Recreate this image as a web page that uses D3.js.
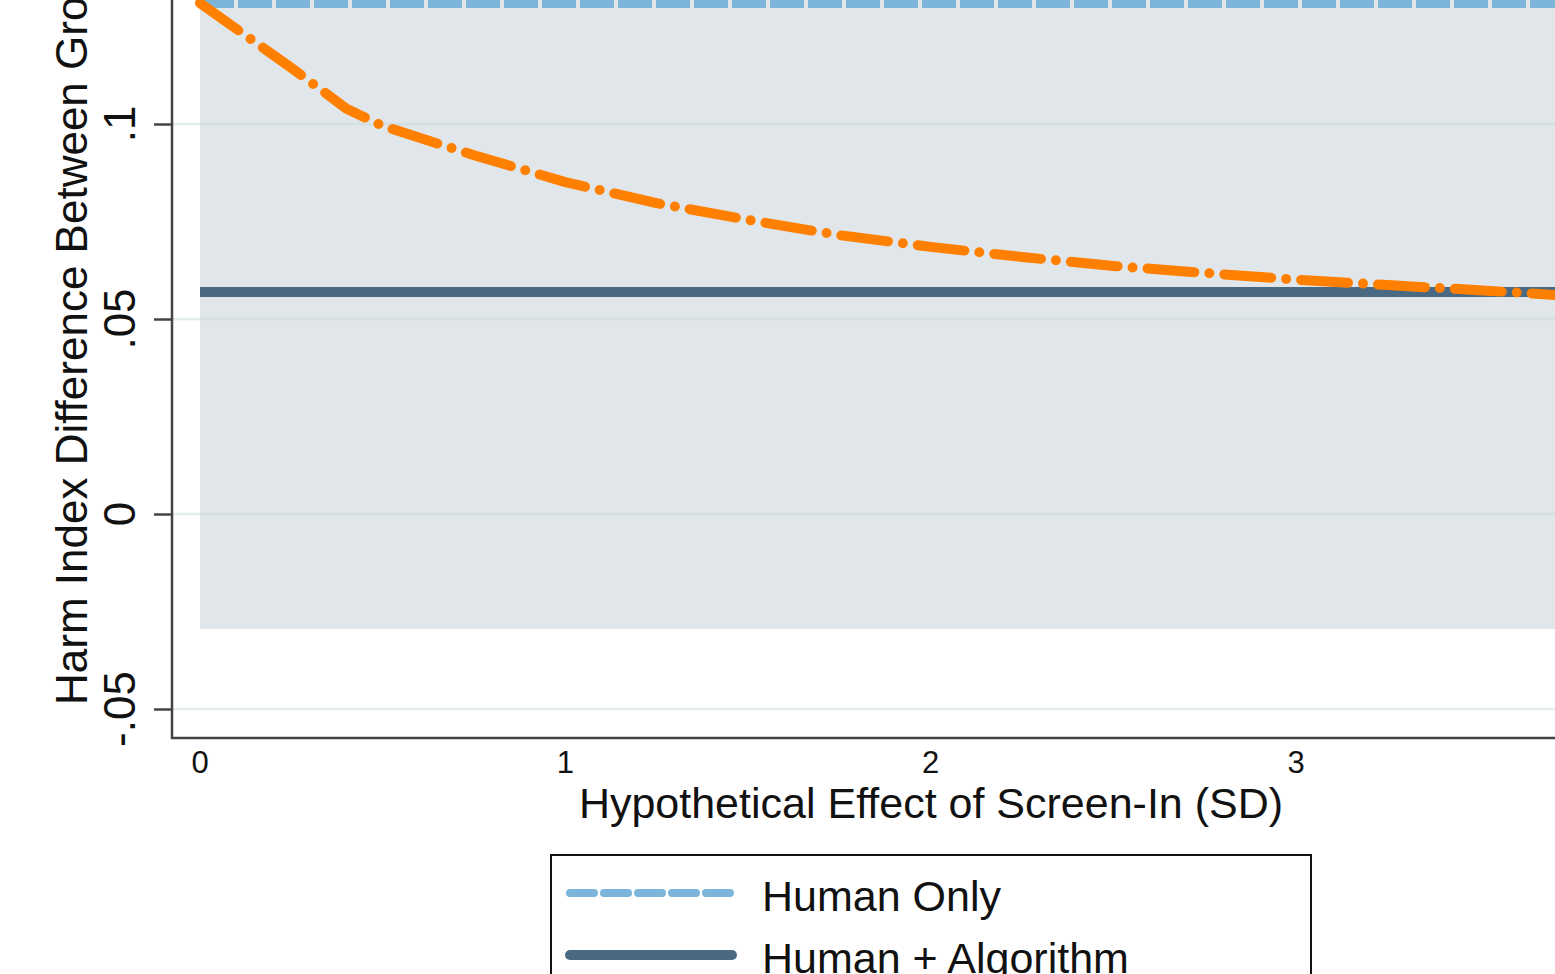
<!DOCTYPE html>
<html>
<head>
<meta charset="utf-8">
<script src="https://cdn.jsdelivr.net/npm/d3@7"></script>
<style>
  body { margin: 0; background: #fff; overflow: hidden; }
  svg { display: block; font-family: "Liberation Sans", Arial, sans-serif; }
</style>
</head>
<body>
<svg></svg>
<script>
var width = 1555
var height = 974

// data
var xTicks = [0, 1, 2, 3]
var yTicks = [-0.05, 0, 0.05, 0.1]
var yTickLabels = ['-.05', '0', '.05', '.1']
var effect = [0, 0.25, 0.4, 0.5, 0.75, 1, 1.25, 1.5, 1.75, 2, 2.25, 2.5, 2.75, 3, 3.25, 3.5, 3.75, 4]
var screenIn = [0.131, 0.1144, 0.104, 0.0995, 0.092, 0.0851, 0.0797, 0.0754, 0.0715, 0.0685,
  0.0659, 0.0636, 0.0618, 0.0601, 0.0587, 0.0574, 0.0559, 0.0548]
var humanOnly = 0.1308
var humanAlgo = 0.0569
var bandLower = -0.0295
var bandUpper = 0.17
var legendLabels = ['Human Only', 'Human + Algorithm']

var svg = d3.select('svg').attr('width', width).attr('height', height)

var x = d3.scaleLinear().domain([0, 3]).range([200, 1296])
var y = d3.scaleLinear().domain([-0.05, 0.1]).range([709, 124])

var axisX = 172
var axisY = 738

// shaded band
svg.append('rect')
  .attr('x', x(0))
  .attr('y', y(bandUpper))
  .attr('width', x(4) - x(0))
  .attr('height', y(bandLower) - y(bandUpper))
  .attr('fill', '#e1e6ea')

// gridlines
svg.append('g').selectAll('line')
  .data(yTicks)
  .enter().append('line')
  .attr('x1', axisX).attr('x2', width)
  .attr('y1', function(d) {return y(d)})
  .attr('y2', function(d) {return y(d)})
  .attr('stroke', 'rgba(195, 215, 216, 0.45)')
  .attr('stroke-width', 2.5)

// human + algorithm
svg.append('line')
  .attr('x1', x(0)).attr('x2', width + 20)
  .attr('y1', y(humanAlgo)).attr('y2', y(humanAlgo))
  .attr('stroke', '#4a6a84')
  .attr('stroke-width', 10)

// human only
svg.append('line')
  .attr('x1', x(0)).attr('x2', width + 20)
  .attr('y1', y(humanOnly)).attr('y2', y(humanOnly))
  .attr('stroke', '#7db4d9')
  .attr('stroke-width', 8)
  .attr('stroke-dasharray', '34,4')

// screen-in curve
var line = d3.line()
  .x(function(d, i) {return x(effect[i])})
  .y(function(d) {return y(d)})

svg.append('path')
  .datum(screenIn)
  .attr('d', line)
  .attr('fill', 'none')
  .attr('stroke', '#ff8000')
  .attr('stroke-width', 10)
  .attr('stroke-linecap', 'round')
  .attr('stroke-linejoin', 'round')
  .attr('stroke-dasharray', '47,15,0,15')

// axes
var yAxis = d3.axisLeft(y).tickValues(yTicks).tickSize(18)
  .tickFormat(function() {return ''})
var gy = svg.append('g').attr('transform', 'translate(' + axisX + ',0)').call(yAxis)
gy.select('.domain').remove()
gy.selectAll('.tick line').attr('stroke', '#444').attr('stroke-width', 2.5)

svg.append('line')
  .attr('x1', axisX).attr('x2', axisX)
  .attr('y1', 0).attr('y2', axisY + 1)
  .attr('stroke', '#444').attr('stroke-width', 2.5)
svg.append('line')
  .attr('x1', axisX - 1).attr('x2', width)
  .attr('y1', axisY).attr('y2', axisY)
  .attr('stroke', '#444').attr('stroke-width', 2.5)

// y tick labels, rotated
svg.append('g').selectAll('text')
  .data(yTicks)
  .enter().append('text')
  .attr('transform', function(d) {return 'translate(135,' + y(d) + ') rotate(-90)'})
  .attr('text-anchor', 'middle')
  .attr('font-size', 44)
  .attr('fill', '#111')
  .text(function(d, i) {return yTickLabels[i]})

// x tick labels
svg.append('g').selectAll('text')
  .data(xTicks)
  .enter().append('text')
  .attr('x', function(d) {return x(d)})
  .attr('y', 773)
  .attr('text-anchor', 'middle')
  .attr('font-size', 31)
  .attr('fill', '#111')
  .text(function(d) {return d})

// axis titles
svg.append('text')
  .attr('transform', 'translate(87,705) rotate(-90)')
  .attr('font-size', 44)
  .attr('fill', '#111')
  .text('Harm Index Difference Between Groups')

svg.append('text')
  .attr('x', 931).attr('y', 818)
  .attr('text-anchor', 'middle')
  .attr('font-size', 43)
  .attr('fill', '#111')
  .text('Hypothetical Effect of Screen-In (SD)')

// legend
var legend = svg.append('g')
legend.append('rect')
  .attr('x', 551).attr('y', 855)
  .attr('width', 760).attr('height', 200)
  .attr('fill', '#fff')
  .attr('stroke', '#111').attr('stroke-width', 2)

var legendStyles = [
  {color: '#7db4d9', width: 8, dash: '24,10'},
  {color: '#4a6a84', width: 10, dash: null}
]
legendLabels.forEach(function(label, i) {
  var ly = 893 + i * 62
  legend.append('line')
    .attr('x1', 570).attr('x2', 732)
    .attr('y1', ly).attr('y2', ly)
    .attr('stroke', legendStyles[i].color)
    .attr('stroke-width', legendStyles[i].width)
    .attr('stroke-linecap', 'round')
    .attr('stroke-dasharray', legendStyles[i].dash)
  legend.append('text')
    .attr('x', 762).attr('y', ly + 18)
    .attr('font-size', 43)
    .attr('fill', '#111')
    .text(label)
})
</script>
</body>
</html>
